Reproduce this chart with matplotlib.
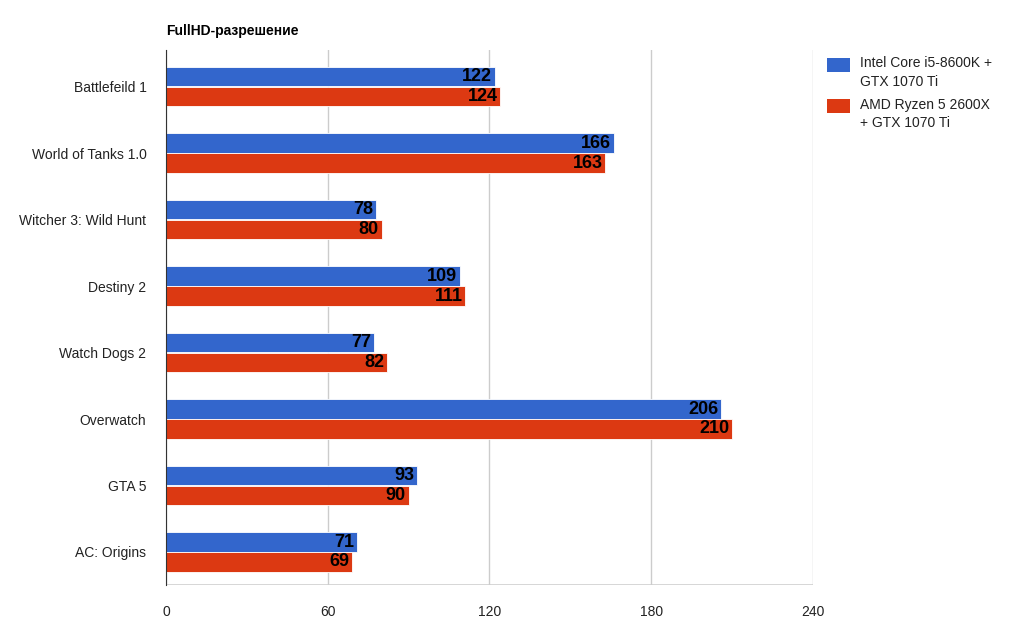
import matplotlib.pyplot as plt
import numpy as np
from matplotlib.patches import Rectangle

games = ["Battlefeild 1", "World of Tanks 1.0", "Witcher 3: Wild Hunt", "Destiny 2",
         "Watch Dogs 2", "Overwatch", "GTA 5", "AC: Origins"]
intel = [122, 166, 78, 109, 77, 206, 93, 71]
amd = [124, 163, 80, 111, 82, 210, 90, 69]
series_names = ["Intel Core i5-8600K +\nGTX 1070 Ti", "AMD Ryzen 5 2600X\n+ GTX 1070 Ti"]
colors = ["#3366cc", "#dc3912"]

plt.rcParams["font.family"] = ["Arial", "Liberation Sans", "DejaVu Sans"]

fig = plt.figure(figsize=(10.24, 6.41), dpi=100)
ax = fig.add_axes([0.162, 0.087, 0.632, 0.835])

y = np.arange(len(games))
h = 0.29
for vals, off, col in [(intel, -h / 2 - 0.005, colors[0]), (amd, h / 2 + 0.005, colors[1])]:
    bars = ax.barh(y + off, vals, height=h, color=col, edgecolor="white", linewidth=0.6, zorder=2)
    for b, v in zip(bars, vals):
        ax.text(b.get_width() - 1, b.get_y() + b.get_height() / 2, str(v), ha="right",
                va="center", fontsize=13, fontweight="bold", color="black", zorder=3)

ax.set_xlim(0, 240)
ax.set_ylim(len(games) - 0.5, -0.55)
ax.set_xticks([0, 60, 120, 180, 240])
ax.set_yticks(y)
ax.set_yticklabels(games)
ax.tick_params(length=0, labelsize=10, colors="#222222", pad=14)
ax.grid(axis="x", color="#cccccc", linewidth=1, zorder=0)
for s in ["top", "right", "bottom"]:
    ax.spines[s].set_visible(False)
ax.spines["left"].set_color("#333333")
ax.axhline(len(games) - 0.5, color="#333333", linewidth=1, zorder=1)

fig.text(0.162, 0.94, "FullHD-разрешение", fontsize=10, fontweight="bold", ha="left", va="bottom")

for i, (name, col) in enumerate(zip(series_names, colors)):
    yy = 0.9 - i * 0.065
    fig.patches.append(Rectangle((0.808, yy - 0.012), 0.022, 0.022, transform=fig.transFigure,
                                 facecolor=col, edgecolor="none"))
    fig.text(0.84, yy + 0.012, name, fontsize=10, color="#222222", va="top", ha="left", linespacing=1.4)

fig.savefig("out.png", dpi=100)
